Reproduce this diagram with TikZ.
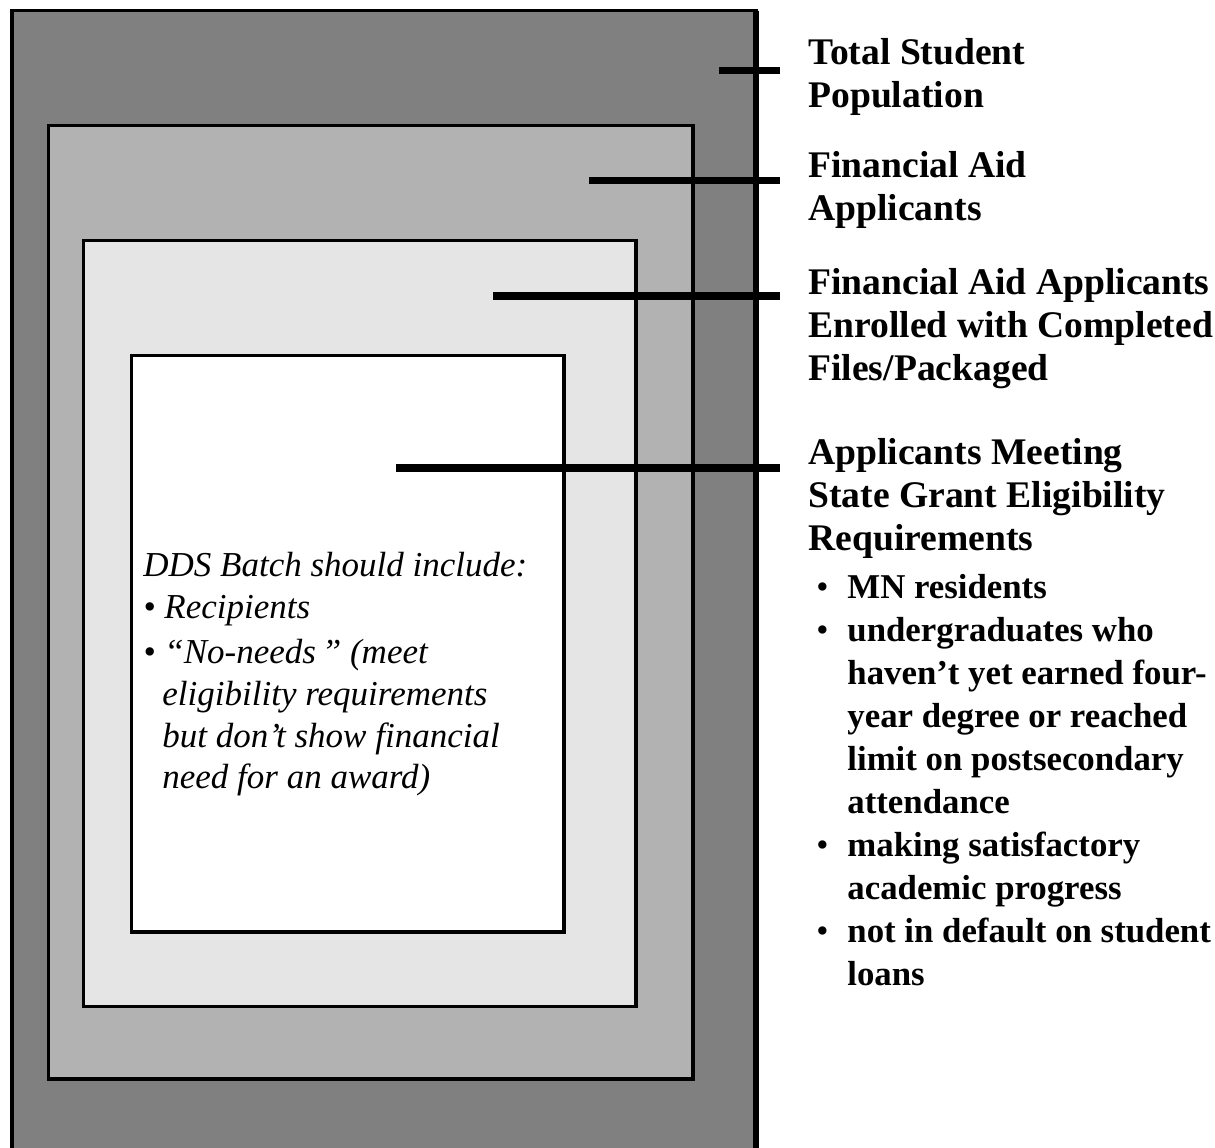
\documentclass[tikz,border=0pt]{standalone}
\usepackage{fontspec}
\setmainfont{Liberation Serif}
\usetikzlibrary{positioning}

\newcommand{\reqbullet}{\makebox[15.5pt][l]{\normalfont\textbullet}}
\newcommand{\reqindent}{\hspace*{15.5pt}}

\begin{document}
\begin{tikzpicture}[%
            x=0.5pt, y=-0.5pt,
            zone/.style={draw=black, line width=1.8pt},
            leader/.style={line width=3.6pt, shorten >=14pt},
            caption/.style={font=\bfseries\fontsize{18.8}{21.5}\selectfont, align=left,
                inner sep=0pt, anchor=north west},
            reqlist/.style={caption, font=\bfseries\fontsize{17.4}{21.5}\selectfont},
            note/.style={font=\itshape\fontsize{17.5}{20.8}\selectfont, align=left,
                inner sep=0pt, anchor=north west}
    ]
        \useasboundingbox (0,0) rectangle (1215,1147);

        % nested populations
        \filldraw [zone, fill=black!50] (12,10.5) rectangle (756,1170);
        \draw [line width=3pt] (756,10.5) -- (756,1170);
        \filldraw [zone, fill=black!30] (48.5,125.5) rectangle (693,1079);
        \filldraw [zone, fill=black!10] (83.5,240.5) rectangle (636,1006.5);
        \filldraw [zone, fill=white] (131.5,355.5) rectangle (564,932);

        % leader starts
        \coordinate (tsp-in) at (719,70.5);
        \coordinate (faa-in) at (589,180.5);
        \coordinate (pkg-in) at (493,296);
        \coordinate (elig-in) at (396,468);

        % captions
        \node [caption] (tsp) at (808,38) {Total Student\\Population};
        \node [caption] (faa) at (808,151) {Financial Aid\\Applicants};
        \node [caption] (pkg) at (808,268) {Financial Aid Applicants\\Enrolled with Completed\\Files/Packaged};
        \node [caption] (elig) at (808,438) {Applicants Meeting\\State Grant Eligibility\\Requirements};
        \node [reqlist] (reqs) at (816,574) {%
            \reqbullet MN residents\\
            \reqbullet undergraduates who\\
            \reqindent haven’t yet earned four-\\
            \reqindent year degree or reached\\
            \reqindent limit on postsecondary\\
            \reqindent attendance\\
            \reqbullet making satisfactory\\
            \reqindent academic progress\\
            \reqbullet not in default on student\\
            \reqindent loans};

        \node [note] (dds) at (143,552) {%
            DDS Batch should include:\\
            • Recipients\\[2pt]
            • “No-needs\,” (meet\\
            \hspace*{9.5pt}eligibility requirements\\
            \hspace*{9.5pt}but don’t show financial\\
            \hspace*{9.5pt}need for an award)};

        % leaders
        \draw [leader] (tsp-in) -- (tsp-in -| tsp.west);
        \draw [leader] (faa-in) -- (faa-in -| faa.west);
        \draw [leader] (pkg-in) -- (pkg-in -| pkg.west);
        \draw [leader] (elig-in) -- (elig-in -| elig.west);
    \end{tikzpicture}
\end{document}
